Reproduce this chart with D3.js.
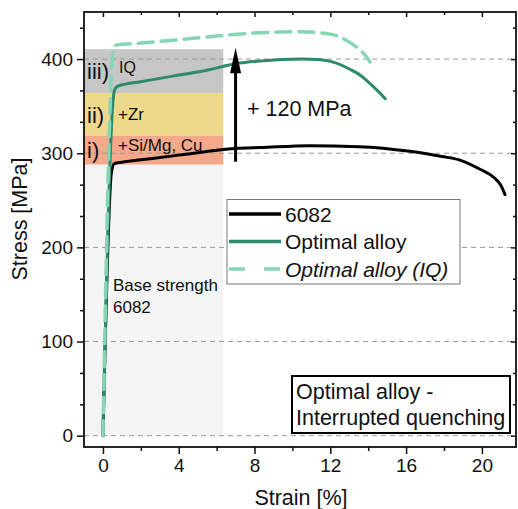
<!DOCTYPE html>
<html>
<head>
<meta charset="utf-8">
<script src="https://cdn.jsdelivr.net/npm/d3@7"></script>
<style>
  body { margin: 0; background: #fff; }
  svg text { font-family: "Liberation Sans", Arial, sans-serif; fill: #111; }
</style>
</head>
<body>
<div id="chart"></div>
<script>
// curve data (strain %, stress MPa)
const strain6082 = [0, 0.45, 0.6, 1, 2, 4, 7, 8.3, 10.9, 13.5, 16.2, 17.9, 18.8, 19.9, 20.65, 21.0, 21.22];
const stress6082 = [0, 280, 289, 290.5, 293, 298, 305, 306, 308, 307, 302, 296.5, 293, 283, 274, 266, 256];

const strainOpt = [0, 0.6, 0.75, 2, 4, 5.2, 7, 8.3, 10.5, 11.5, 12.2, 13, 13.6, 14.2, 14.9];
const stressOpt = [0, 366, 371, 376, 383, 387, 395, 398, 400, 399.3, 396.5, 389.5, 382.5, 372, 358];

const strainIQ = [0, 0.55, 0.7, 2, 3.7, 6, 8.3, 10.5, 12, 12.7, 13.3, 13.8, 14.1];
const stressIQ = [0, 410, 415, 417, 420, 424.5, 428, 429, 426.5, 421.5, 414, 405, 397];

const seriesNames = ["6082", "Optimal alloy", "Optimal alloy (IQ)"];
const seriesColors = ["#000000", "#2d8a6b", "#86d5b5"];

// strengthening bands: [from MPa, to MPa]
const bandNames = ["base", "i)", "ii)", "iii)"];
const bandLow = [0, 288, 319, 364];
const bandHigh = [288, 319, 364, 410.5];
const bandColors = ["#f4f4f4", "#f6a88b", "#eed88b", "#c6c6c6"];
const bandEndStrain = 6.35;

const xTicks = [0, 4, 8, 12, 16, 20];
const yTicks = [0, 100, 200, 300, 400];

const W = 518, H = 509;
const plot = { left: 84, right: 516, top: 12, bottom: 447 };

const svg = d3.select("#chart").append("svg")
  .attr("width", W).attr("height", H);

const x = d3.scaleLinear().domain([-1, 21.8]).range([plot.left, plot.right]);
const y = d3.scaleLinear().domain([-12, 450]).range([plot.bottom, plot.top]);

// bands
bandNames.forEach((b, i) => {
  svg.append("rect")
    .attr("x", x(-1))
    .attr("y", y(bandHigh[i]))
    .attr("width", x(bandEndStrain) - x(-1))
    .attr("height", y(bandLow[i]) - y(bandHigh[i]))
    .attr("fill", bandColors[i]);
});

// dashed grid
svg.append("g").selectAll("line").data(yTicks).enter().append("line")
  .attr("x1", plot.left).attr("x2", plot.right)
  .attr("y1", d => y(d)).attr("y2", d => y(d))
  .attr("stroke", "#9a9a9a").attr("stroke-width", 1)
  .attr("stroke-dasharray", "5,4");

// band labels
const bandText = [
  { t: "iii)", v: 387, size: 22, dx: 87 },
  { t: "ii)", v: 341, size: 22, dx: 87 },
  { t: "i)", v: 303, size: 22, dx: 87 }
];
bandText.forEach(d => {
  svg.append("text").attr("x", d.dx).attr("y", y(d.v) + 8)
    .style("font-size", d.size + "px").text(d.t);
});
svg.append("text").attr("x", 119).attr("y", y(392) + 6)
  .style("font-size", "16px").text("IQ");
svg.append("text").attr("x", 118).attr("y", y(342) + 6)
  .style("font-size", "17px").text("+Zr");
svg.append("text").attr("x", 118).attr("y", y(309) + 6)
  .style("font-size", "17px").text("+Si/Mg, Cu");
svg.append("text").attr("x", 113).attr("y", y(160) + 6)
  .style("font-size", "17px").text("Base strength");
svg.append("text").attr("x", 113).attr("y", y(137) + 6)
  .style("font-size", "17px").text("6082");

// curves
const line = d3.line()
  .x(d => x(d[0])).y(d => y(d[1]))
  .curve(d3.curveMonotoneX);

const curves = [
  d3.zip(strain6082, stress6082),
  d3.zip(strainOpt, stressOpt),
  d3.zip(strainIQ, stressIQ)
];

// 6082 first, IQ dashed on top
[0, 1, 2].forEach(i => {
  svg.append("path")
    .datum(curves[i])
    .attr("fill", "none")
    .attr("stroke", seriesColors[i])
    .attr("stroke-width", i === 2 ? 3.5 : 3)
    .attr("stroke-linecap", "round")
    .attr("stroke-dasharray", i === 2 ? "15,8" : null)
    .attr("d", line);
});

// arrow +120 MPa
const arrowX = x(7.0);
svg.append("line")
  .attr("x1", arrowX).attr("x2", arrowX)
  .attr("y1", y(291)).attr("y2", y(392))
  .attr("stroke", "#000").attr("stroke-width", 3);
svg.append("path")
  .attr("d", `M${arrowX},${y(412)} L${arrowX - 5.5},${y(385)} L${arrowX + 5.5},${y(385)} Z`)
  .attr("fill", "#000");
svg.append("text").attr("x", 247).attr("y", 115.5)
  .style("font-size", "21.5px").text("+ 120 MPa");

// legend
const legend = svg.append("g").attr("transform", "translate(227,199.5)");
legend.append("rect")
  .attr("width", 233).attr("height", 84.5)
  .attr("fill", "#fff").attr("stroke", "#777").attr("stroke-width", 1);
seriesNames.forEach((name, i) => {
  const cy = 14.5 + i * 27.5;
  legend.append("line")
    .attr("x1", 2).attr("x2", 54).attr("y1", cy).attr("y2", cy)
    .attr("stroke", seriesColors[i]).attr("stroke-width", 3.5)
    .attr("stroke-dasharray", i === 2 ? "16,19" : null);
  legend.append("text")
    .attr("x", 58).attr("y", cy + 7.5)
    .style("font-size", "21px")
    .style("font-style", i === 2 ? "italic" : "normal")
    .text(name);
});

// annotation box
const note = svg.append("g").attr("transform", "translate(292,376)");
note.append("rect")
  .attr("width", 218).attr("height", 57)
  .attr("fill", "#fff").attr("stroke", "#000").attr("stroke-width", 2);
note.append("text").attr("x", 4).attr("y", 22.5)
  .style("font-size", "21.5px").text("Optimal alloy -");
note.append("text").attr("x", 4).attr("y", 49)
  .style("font-size", "21.5px").text("Interrupted quenching");

// axes
const xMinor = xTicks.map(t => t + 2).filter(t => t < 21.8);
const yMinor = d3.range(0, 450, 100 / 3).filter((t, i) => i % 3 !== 0);

svg.append("g")
  .attr("transform", `translate(0,${plot.bottom})`)
  .call(d3.axisBottom(x).tickValues(xTicks).tickSize(7).tickPadding(5).tickFormat(d3.format("d")))
  .call(g => g.selectAll("text").style("font-size", "19px").attr("fill", "#111"));
svg.append("g")
  .attr("transform", `translate(0,${plot.bottom})`)
  .call(d3.axisBottom(x).tickValues(xMinor).tickSize(4).tickFormat(""));

svg.append("g")
  .attr("transform", `translate(${plot.left},0)`)
  .call(d3.axisLeft(y).tickValues(yTicks).tickSize(7).tickPadding(4))
  .call(g => g.selectAll("text").style("font-size", "19px").attr("fill", "#111"));
svg.append("g")
  .attr("transform", `translate(${plot.left},0)`)
  .call(d3.axisLeft(y).tickValues(yMinor).tickSize(4).tickFormat(""));

// mirrored top / right ticks (inside)
svg.append("g")
  .attr("transform", `translate(0,${plot.top})`)
  .call(d3.axisBottom(x).tickValues(xTicks).tickSize(5).tickFormat(""));
svg.append("g")
  .attr("transform", `translate(0,${plot.top})`)
  .call(d3.axisBottom(x).tickValues(xMinor).tickSize(3).tickFormat(""));
svg.append("g")
  .attr("transform", `translate(${plot.right},0)`)
  .call(d3.axisLeft(y).tickValues(yTicks).tickSize(5).tickFormat(""));
svg.append("g")
  .attr("transform", `translate(${plot.right},0)`)
  .call(d3.axisLeft(y).tickValues(yMinor).tickSize(3).tickFormat(""));

svg.selectAll(".domain").remove();
svg.selectAll(".tick line").attr("stroke", "#111").attr("stroke-width", 1.5);

// frame
svg.append("rect")
  .attr("x", plot.left).attr("y", plot.top)
  .attr("width", plot.right - plot.left).attr("height", plot.bottom - plot.top)
  .attr("fill", "none").attr("stroke", "#111").attr("stroke-width", 1.8);

// axis titles
svg.append("text")
  .attr("x", 301).attr("y", 505)
  .attr("text-anchor", "middle")
  .style("font-size", "21.5px").text("Strain [%]");
svg.append("text")
  .attr("transform", "translate(27,219) rotate(-90)")
  .attr("text-anchor", "middle")
  .style("font-size", "21.5px").text("Stress [MPa]");
</script>
</body>
</html>
